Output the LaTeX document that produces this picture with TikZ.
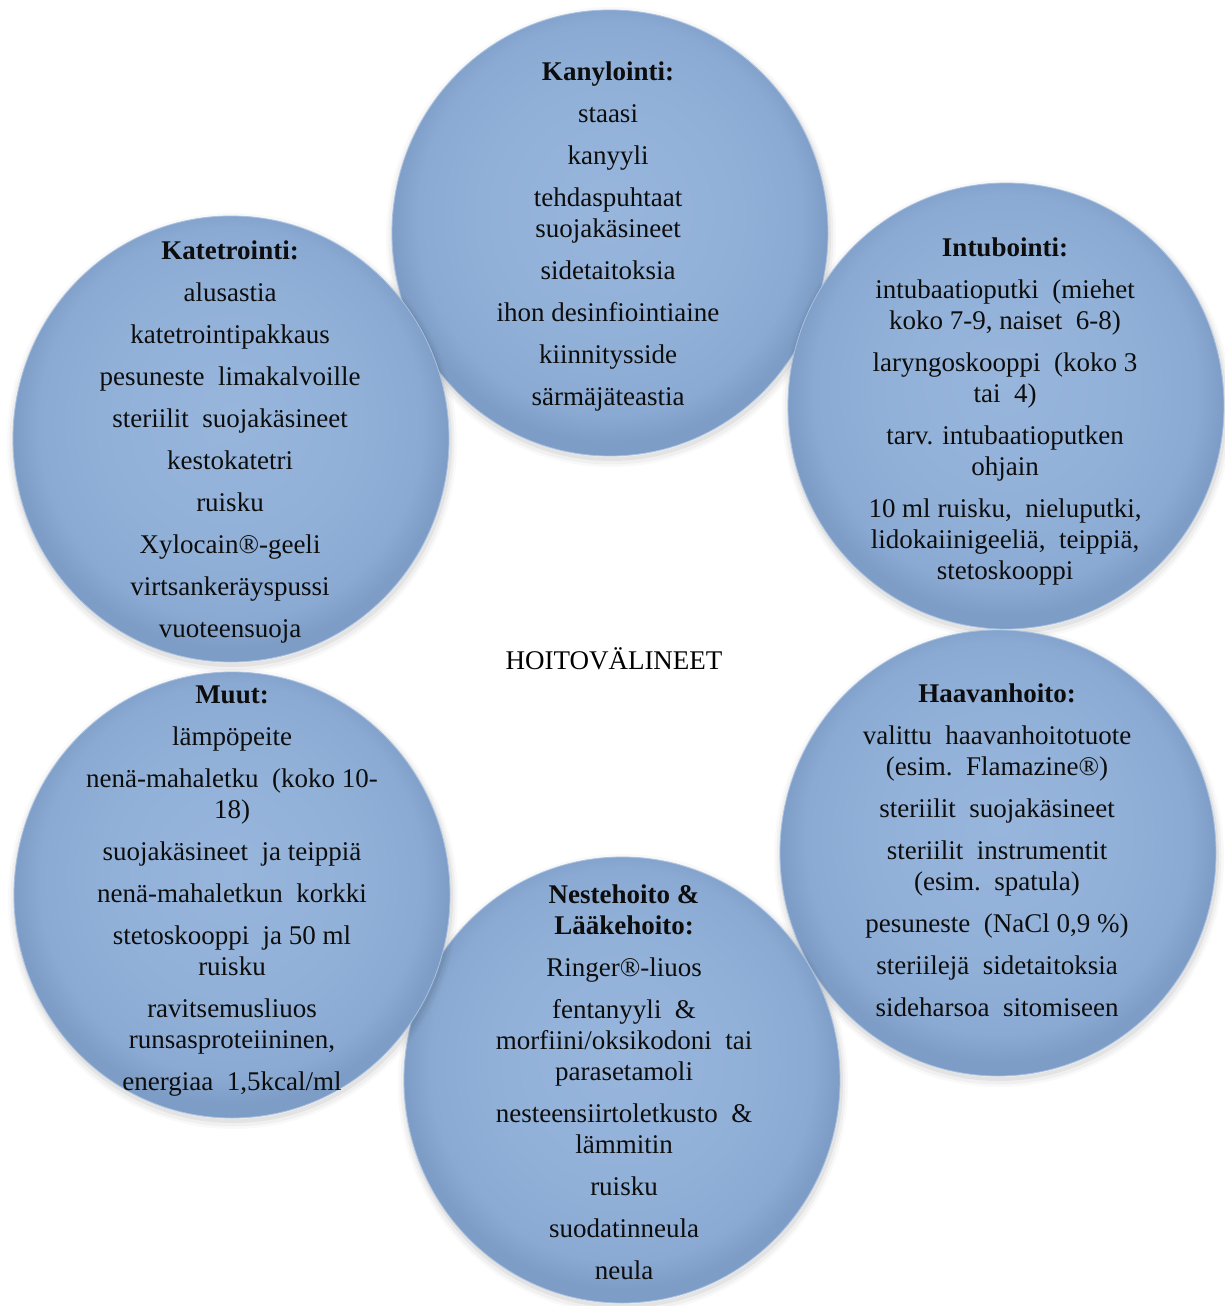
\documentclass[tikz,border=0pt]{standalone}
\usepackage{fontspec}
\setmainfont{Liberation Serif}
\usetikzlibrary{shapes.geometric}
\definecolor{bubA}{HTML}{98B6DC}
\definecolor{bubB}{HTML}{91B0D8}
\definecolor{bubC}{HTML}{8BAAD3}
\definecolor{bubD}{HTML}{7E9DC6}
\definecolor{bubRim}{HTML}{A8C1E2}
\pgfdeclareradialshading{bubble}{\pgfpoint{0bp}{3bp}}{color(0bp)=(bubA); color(15bp)=(bubB); color(22bp)=(bubC); color(25bp)=(bubD); color(50bp)=(bubD)}
\tikzset{
  bub/.style={shape=ellipse, minimum width=436pt, minimum height=446pt, inner sep=0pt,
    preaction={draw=black, line width=14pt, opacity=0.025, transform canvas={xshift=1pt,yshift=-4pt}},
    preaction={draw=black, line width=9pt, opacity=0.035, transform canvas={xshift=1pt,yshift=-4pt}},
    preaction={draw=black, line width=4pt, opacity=0.05, transform canvas={xshift=1pt,yshift=-3pt}},
    shade, shading=bubble, draw=bubRim, line width=0.8pt},
  txt/.style={anchor=north, align=center, inner sep=0pt, font=\fontsize{27}{31}\selectfont, text=black!95},
  hubtxt/.style={anchor=base, inner sep=0pt, font=\fontsize{27}{31}\selectfont, text=black}
}
\begin{document}
\begin{tikzpicture}[x=1pt,y=-1pt]
\useasboundingbox (0,0) rectangle (1224,1306);
\fill[white] (0,0) rectangle (1224,1306);

% circles (cycle order)
\node[bub] (c1) at (610,233) {};
\node[bub] (c2) at (1006,406) {};
\node[bub] (c3) at (998,853) {};
\node[bub] (c4) at (622,1080) {};
\node[bub] (c5) at (232,895) {};
\node[bub] (c6) at (231,439) {};

% texts
\node[txt] (t1) at (608,62) {\textbf{Kanylointi:}\\[11pt]
staasi\\[11pt]
kanyyli\\[11pt]
tehdaspuhtaat\\
suojakäsineet\\[11pt]
sidetaitoksia\\[11pt]
ihon desinfiointiaine\\[11pt]
kiinnitysside\\[11pt]
särmäjäteastia};

\node[txt] (t2) at (1005,238) {\textbf{Intubointi:}\\[11pt]
intubaatioputki\ \ (miehet\\
koko 7-9, naiset\ \ 6-8)\\[11pt]
laryngoskooppi\ \ (koko 3\\
tai\ \ 4)\\[11pt]
tarv. intubaatioputken\\
ohjain\\[11pt]
10 ml ruisku,\ \ nieluputki,\\
lidokaiinigeeliä,\ \ teippiä,\\
stetoskooppi};

\node[txt] (t3) at (997,684) {\textbf{Haavanhoito:}\\[11pt]
valittu\ \ haavanhoitotuote\\
(esim.\ \ Flamazine®)\\[11pt]
steriilit\ \ suojakäsineet\\[11pt]
steriilit\ \ instrumentit\\
(esim.\ \ spatula)\\[11pt]
pesuneste\ \ (NaCl 0,9 \%)\\[11pt]
steriilejä\ \ sidetaitoksia\\[11pt]
sideharsoa\ \ sitomiseen};

\node[txt] (t4) at (624,885) {\textbf{Nestehoito \&}\\
\textbf{Lääkehoito:}\\[11pt]
Ringer®-liuos\\[11pt]
fentanyyli\ \ \&\\
morfiini/oksikodoni\ \ tai\\
parasetamoli\\[11pt]
nesteensiirtoletkusto\ \ \&\\
lämmitin\\[11pt]
ruisku\\[11pt]
suodatinneula\\[11pt]
neula};

\node[txt] (t5) at (232,686) {\textbf{Muut:}\\[11pt]
lämpöpeite\\[11pt]
nenä-mahaletku\ \ (koko 10-\\
18)\\[11pt]
suojakäsineet\ \ ja teippiä\\[11pt]
nenä-mahaletkun\ \ korkki\\[11pt]
stetoskooppi\ \ ja 50 ml\\
ruisku\\[11pt]
ravitsemusliuos\\
runsasproteiininen,\\[11pt]
energiaa\ \ 1,5kcal/ml};

\node[txt] (t6) at (230,241) {\textbf{Katetrointi:}\\[11pt]
alusastia\\[11pt]
katetrointipakkaus\\[11pt]
pesuneste\ \ limakalvoille\\[11pt]
steriilit\ \ suojakäsineet\\[11pt]
kestokatetri\\[11pt]
ruisku\\[11pt]
Xylocain®-geeli\\[11pt]
virtsankeräyspussi\\[11pt]
vuoteensuoja};

\node[hubtxt] (hub) at (614,669) {HOITOVÄLINEET};
\end{tikzpicture}
\end{document}
